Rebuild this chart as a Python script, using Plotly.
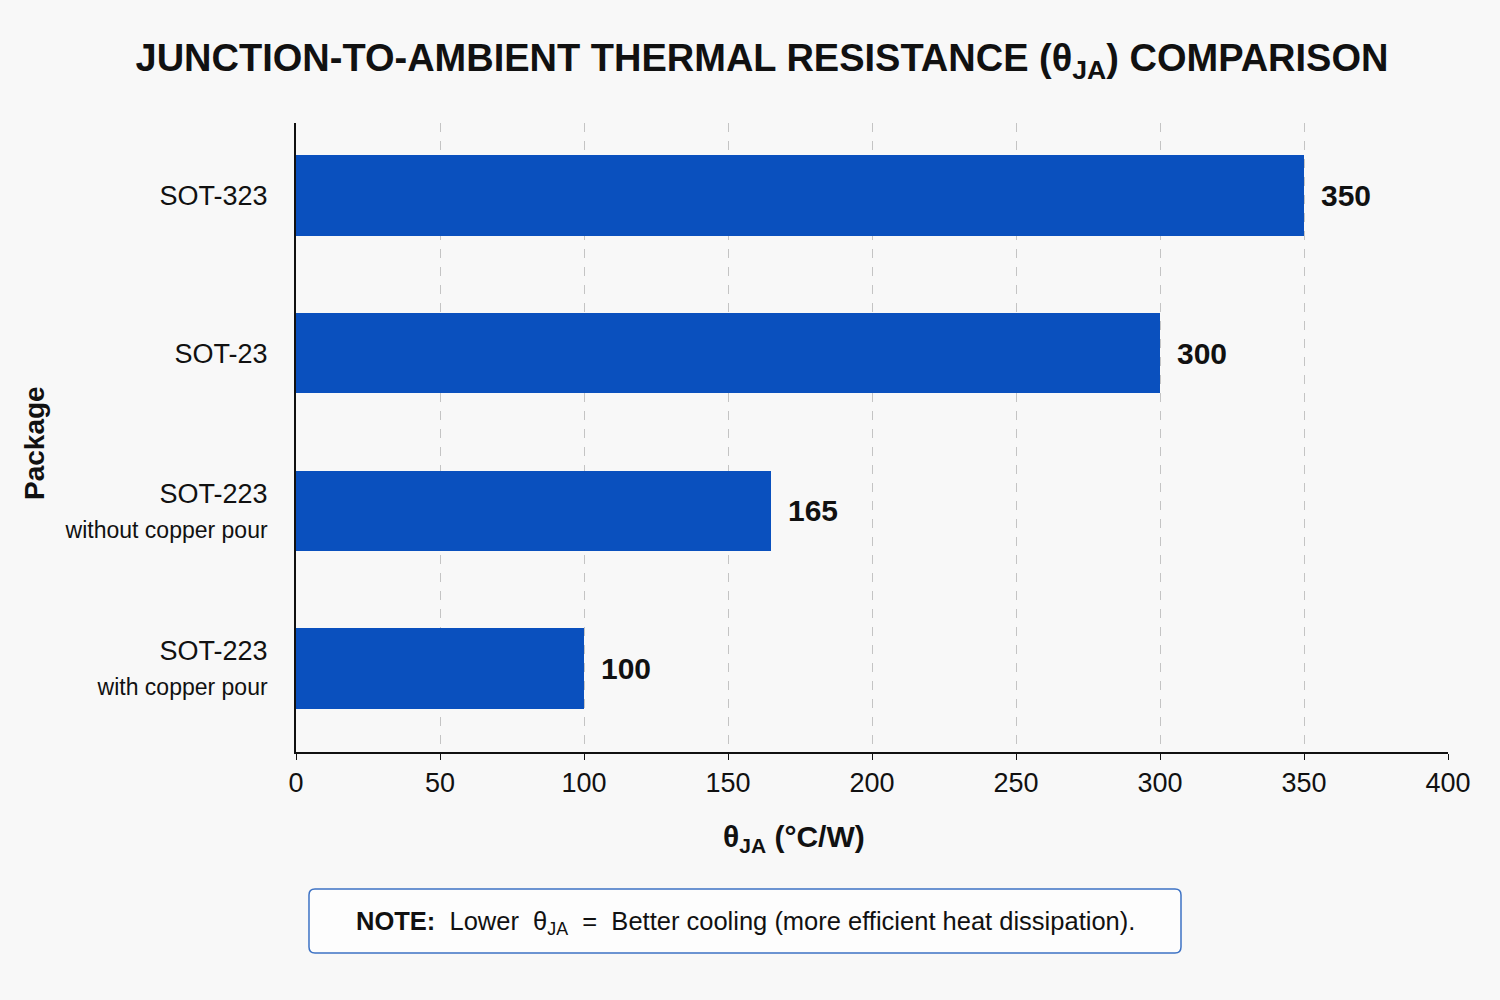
"""Junction-to-ambient thermal resistance comparison as a horizontal bar chart."""

import plotly.graph_objects as go

packages = ["SOT-223_with", "SOT-223_without", "SOT-23", "SOT-323"]
package_main = ["SOT-223", "SOT-223", "SOT-23", "SOT-323"]
package_sub = ["with copper pour", "without copper pour", "", ""]
theta_ja = [100, 165, 300, 350]
x_ticks = [0, 50, 100, 150, 200, 250, 300, 350, 400]

FONT = "Liberation Sans, Arial, sans-serif"
BG = "#f8f8f8"
BAR_COLOR = "#0a50be"

# plot area in pixels (used only for placing decorations)
L, R, T, B = 296, 1448, 123, 752


def px_to_paper(x, y):
    return (x - L) / (R - L), (B - y) / (B - T)


def rounded_rect(x0, y0, x1, y1, r):
    """Rounded rectangle path in paper coordinates from pixel corners."""
    def p(x, y):
        px, py = px_to_paper(x, y)
        return f"{px:.5f},{py:.5f}"

    return " ".join(
        [
            f"M {p(x0 + r, y0)}",
            f"L {p(x1 - r, y0)}",
            f"Q {p(x1, y0)} {p(x1, y0 + r)}",
            f"L {p(x1, y1 - r)}",
            f"Q {p(x1, y1)} {p(x1 - r, y1)}",
            f"L {p(x0 + r, y1)}",
            f"Q {p(x0, y1)} {p(x0, y1 - r)}",
            f"L {p(x0, y0 + r)}",
            f"Q {p(x0, y0)} {p(x0 + r, y0)} Z",
        ]
    )


tick_text = []
for main, sub in zip(package_main, package_sub):
    if sub:
        tick_text.append(f"{main}<br><span style='font-size:23px'>{sub}</span>")
    else:
        tick_text.append(main)

fig = go.Figure()

fig.add_trace(
    go.Bar(
        x=theta_ja,
        y=list(range(len(packages))),
        orientation="h",
        width=0.51,
        marker={"color": BAR_COLOR, "line": {"width": 0}},
        hovertemplate="%{x} °C/W<extra></extra>",
    )
)

annotations = []
for i, v in enumerate(theta_ja):
    annotations.append(
        {
            "x": v,
            "y": i,
            "xref": "x",
            "yref": "y",
            "text": f"<b>{v}</b>",
            "showarrow": False,
            "xanchor": "left",
            "yanchor": "middle",
            "xshift": 15,
            "font": {"size": 30, "color": "#111111", "family": FONT},
        }
    )

yt_x, yt_y = px_to_paper(34, 443)
annotations.append(
    {
        "x": yt_x,
        "y": yt_y,
        "xref": "paper",
        "yref": "paper",
        "xanchor": "center",
        "yanchor": "middle",
        "text": "<b>Package</b>",
        "textangle": -90,
        "showarrow": False,
        "font": {"size": 28, "color": "#111111", "family": FONT},
    }
)

xt_x, xt_y = px_to_paper(794, 838)
annotations.append(
    {
        "x": xt_x,
        "y": xt_y,
        "xref": "paper",
        "yref": "paper",
        "xanchor": "center",
        "yanchor": "middle",
        "text": "<b>θ<sub>JA</sub> (°C/W)</b>",
        "showarrow": False,
        "font": {"size": 30, "color": "#111111", "family": FONT},
    }
)

note_x, note_y = px_to_paper(745, 923)
annotations.append(
    {
        "x": note_x,
        "y": note_y,
        "xref": "paper",
        "yref": "paper",
        "xanchor": "center",
        "yanchor": "middle",
        "text": "<b>NOTE:</b>  Lower  θ<sub>JA</sub>  =  Better cooling (more efficient heat dissipation).",
        "showarrow": False,
        "font": {"size": 25.5, "color": "#111111", "family": FONT},
    }
)

fig.update_layout(
    width=1500,
    height=1000,
    title={
        "text": "<b>JUNCTION-TO-AMBIENT THERMAL RESISTANCE (θ<sub>JA</sub>) COMPARISON</b>",
        "x": 0.508,
        "xanchor": "center",
        "y": 1 - 58 / 1000,
        "yanchor": "middle",
        "font": {"size": 38, "color": "#111111", "family": FONT},
    },
    font={"family": FONT, "color": "#111111"},
    paper_bgcolor=BG,
    plot_bgcolor=BG,
    margin={"l": L, "r": 1500 - R, "t": T, "b": 1000 - B},
    showlegend=False,
    bargap=0,
    annotations=annotations,
    shapes=[
        {
            "type": "path",
            "xref": "paper",
            "yref": "paper",
            "path": rounded_rect(309, 889, 1181, 953, 6),
            "line": {"color": "#3d72c4", "width": 1.5},
            "fillcolor": "#fdfdfd",
            "layer": "below",
        }
    ],
)

fig.update_xaxes(
    range=[0, 400],
    tickvals=x_ticks,
    ticktext=[str(t) for t in x_ticks],
    tickfont={"size": 27, "color": "#111111"},
    ticks="outside",
    ticklen=6,
    tickcolor="#111111",
    showline=True,
    linecolor="#111111",
    linewidth=2,
    showgrid=True,
    gridcolor="#c4c4c4",
    griddash="dash",
    gridwidth=1,
    zeroline=False,
)

fig.update_yaxes(
    range=[-0.53, 3.46],
    tickvals=list(range(len(packages))),
    ticktext=tick_text,
    tickfont={"size": 27, "color": "#111111"},
    ticks="",
    ticklabelstandoff=21,
    showline=True,
    linecolor="#111111",
    linewidth=2,
    showgrid=False,
    zeroline=False,
)

fig.write_html(
    "out.html",
    config={"displayModeBar": False},
    post_script="document.body.style.margin = '0';",
)
